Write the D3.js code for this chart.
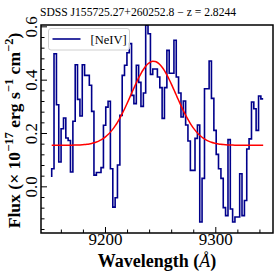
<!DOCTYPE html>
<html lang="en">
<head>
<meta charset="UTF-8" />
<title>SDSS J155725.27+260252.8 [NeIV]</title>
<script src="https://d3js.org/d3.v7.min.js"></script>
<style>
  body { margin: 0; background: #fff; }
  svg text { font-family: "Liberation Serif", "DejaVu Serif", serif; fill: #000; }
</style>
</head>
<body>
<svg width="277" height="277"></svg>
<script>
// observed spectrum (Angstrom, 1e-17 erg/s/cm2)
const wavelength = [
  9151.7, 9153.8, 9156.0, 9158.1, 9160.2, 9162.4, 9164.5, 9166.6, 9168.7, 9170.9,
  9173.0, 9175.1, 9177.3, 9179.4, 9181.5, 9183.6, 9185.8, 9187.9, 9190.0, 9192.2,
  9194.3, 9196.4, 9198.6, 9200.7, 9202.8, 9204.9, 9207.1, 9209.2, 9211.3, 9213.5,
  9215.6, 9217.7, 9219.9, 9222.0, 9224.1, 9226.2, 9228.4, 9230.5, 9232.6, 9234.8,
  9236.9, 9239.0, 9241.2, 9243.3, 9245.4, 9247.5, 9249.7, 9251.8, 9253.9, 9256.1,
  9258.2, 9260.3, 9262.5, 9264.6, 9266.7, 9268.9, 9271.0, 9273.1, 9275.2, 9277.4,
  9279.5, 9281.6, 9283.8, 9285.9, 9288.0, 9290.2, 9292.3, 9294.4, 9296.5, 9298.7,
  9300.8, 9302.9, 9305.1, 9307.2, 9309.3, 9311.5, 9313.6, 9315.7, 9317.8, 9320.0,
  9322.1, 9324.2, 9326.4, 9328.5, 9330.6, 9332.8, 9334.9, 9337.0, 9339.2, 9341.3,
  9343.4
];
const flux = [
  0.035, 0.066, 0.497, 0.306, 0.091, 0.216, 0.256, 0.181, 0.172, 0.054,
  0.244, 0.456, 0.326, 0.264, 0.456, 0.416, 0.416, 0.379, 0.281, 0.042,
  0.052, 0.052, 0.070, 0.229, 0.297, 0.319, 0.066, -0.078, -0.043, 0.080,
  0.266, 0.416, 0.454, 0.501, 0.535, 0.341, 0.310, 0.454, 0.390, 0.300,
  0.350, 0.604, 0.572, 0.420, 0.440, 0.440, 0.410, 0.370, 0.255, 0.370,
  0.510, 0.424, 0.424, 0.548, 0.410, 0.350, 0.260, 0.320, 0.230, 0.170,
  0.060, 0.060, 0.180, 0.230, -0.134, 0.030, 0.366, 0.366, 0.470, 0.330,
  0.210, 0.120, 0.066, 0.030, -0.080, -0.110, 0.175, -0.085, -0.134, -0.115,
  -0.115, 0.047, -0.110, -0.053, 0.140, 0.178, 0.316, 0.291, 0.210, 0.339,
  0.328
];

// gaussian fit of the line
const fitCenter = 9244.0;
const fitSigma = 20.3;
const fitAmp = 0.315;
const fitCont = 0.154;

const xMajorTicks = [9200, 9300];
const xMinorTicks = [9160, 9180, 9220, 9240, 9260, 9280, 9320, 9340];
const yMajorTicks = [0.0, 0.2, 0.4, 0.6];
const yMinorTicks = [-0.16, -0.12, -0.08, -0.04, 0.04, 0.08, 0.12, 0.16,
  0.24, 0.28, 0.32, 0.36, 0.44, 0.48, 0.52, 0.56];

const titleText = "SDSS J155725.27+260252.8 \u2212 z = 2.8244";
const legendLabel = "[NeIV]";

const svg = d3.select("svg");
const mLeft = 41, mRight = 273, mTop = 25, mBottom = 233;

const x = d3.scaleLinear().domain([9142, 9352.3]).range([mLeft, mRight]);
const y = d3.scaleLinear().domain([-0.175, 0.605]).range([mBottom, mTop]);

svg.append("clipPath").attr("id", "plotclip")
  .append("rect").attr("x", mLeft).attr("y", mTop)
  .attr("width", mRight - mLeft).attr("height", mBottom - mTop);

const spec = wavelength.map((w, i) => ({ w: w, f: flux[i] }));
const model = wavelength.map(w => ({
  w: w,
  f: fitCont + fitAmp * Math.exp(-((w - fitCenter) ** 2) / (2 * fitSigma * fitSigma))
}));

const g = svg.append("g").attr("clip-path", "url(#plotclip)");

// spectrum as steps
g.append("path")
  .datum(spec)
  .attr("fill", "none")
  .attr("stroke", "#00008b")
  .attr("stroke-width", 1.6)
  .attr("d", d3.line().x(d => x(d.w)).y(d => y(d.f)).curve(d3.curveStepBefore));

// fit
g.append("path")
  .datum(model)
  .attr("fill", "none")
  .attr("stroke", "#ff0000")
  .attr("stroke-width", 1.5)
  .attr("d", d3.line().x(d => x(d.w)).y(d => y(d.f)).curve(d3.curveMonotoneX));

// ticks (inward, left + bottom only)
const xAxis = svg.append("g").attr("transform", `translate(0,${mBottom})`)
  .call(d3.axisBottom(x).tickValues(xMajorTicks).tickSize(-6).tickFormat(d3.format("d")));
svg.append("g").attr("transform", `translate(0,${mBottom})`)
  .call(d3.axisBottom(x).tickValues(xMinorTicks).tickSize(-3.5).tickFormat(""));
const yAxis = svg.append("g").attr("transform", `translate(${mLeft},0)`)
  .call(d3.axisLeft(y).tickValues(yMajorTicks).tickSize(-6).tickFormat(d3.format(".1f")));
svg.append("g").attr("transform", `translate(${mLeft},0)`)
  .call(d3.axisLeft(y).tickValues(yMinorTicks).tickSize(-3.5).tickFormat(""));

svg.selectAll(".domain").remove();
svg.selectAll(".tick line").attr("stroke", "#000").attr("stroke-width", 1);

xAxis.selectAll(".tick text")
  .attr("font-size", 17).attr("dy", null).attr("y", 12)
  .attr("fill", "#000")
  .style("font-family", "Liberation Serif");

yAxis.selectAll(".tick text")
  .attr("x", null).attr("dy", null)
  .attr("text-anchor", "middle")
  .attr("transform", "translate(-4,0) rotate(-90)")
  .attr("font-size", 17)
  .attr("fill", "#000")
  .style("font-family", "Liberation Serif");

// frame
svg.append("rect")
  .attr("x", mLeft).attr("y", mTop)
  .attr("width", mRight - mLeft).attr("height", mBottom - mTop)
  .attr("fill", "none").attr("stroke", "#000").attr("stroke-width", 1.5);

// legend
const lg = svg.append("g");
lg.append("rect")
  .attr("x", 48.5).attr("y", 28.5).attr("width", 81).attr("height", 21.5)
  .attr("rx", 2.5).attr("fill", "#fff").attr("fill-opacity", 0.8)
  .attr("stroke", "#d0d0d0").attr("stroke-width", 1);
lg.append("line")
  .attr("x1", 52.5).attr("x2", 80.5).attr("y1", 39).attr("y2", 39)
  .attr("stroke", "#00008b").attr("stroke-width", 1.6);
lg.append("text")
  .attr("x", 90.5).attr("y", 43.5).attr("font-size", 12.5)
  .text(legendLabel);

// title
svg.append("text")
  .attr("x", 138).attr("y", 15.5).attr("text-anchor", "middle")
  .attr("font-size", 11.6).text(titleText);

// x label
const xl = svg.append("text")
  .attr("x", (mLeft + mRight) / 2).attr("y", 266.5)
  .attr("text-anchor", "middle").attr("font-size", 18).attr("font-weight", "bold");
xl.append("tspan").text("Wavelength (");
xl.append("tspan").attr("font-style", "italic").attr("font-weight", "normal").text("\u00c5");
xl.append("tspan").text(")");

// y label
const yl = svg.append("text")
  .attr("transform", `translate(20,130.5) rotate(-90)`)
  .attr("text-anchor", "middle").attr("font-size", 17.6).attr("font-weight", "bold");
yl.append("tspan").text("Flux (\u00d7 10");
yl.append("tspan").attr("font-size", 12.5).attr("dy", -7).text("\u221217");
yl.append("tspan").attr("dy", 7).text(" erg s");
yl.append("tspan").attr("font-size", 12.5).attr("dy", -7).text("\u22121");
yl.append("tspan").attr("dy", 7).text(" cm");
yl.append("tspan").attr("font-size", 12.5).attr("dy", -7).text("\u22122");
yl.append("tspan").attr("dy", 7).text(")");
</script>
</body>
</html>
